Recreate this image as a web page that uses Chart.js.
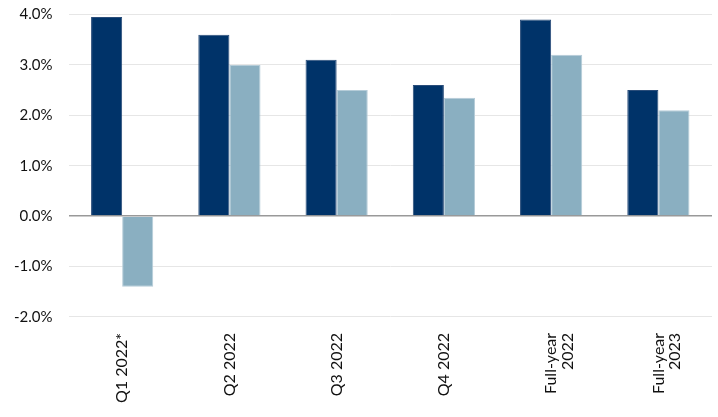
<!DOCTYPE html>
<html>
<head>
<meta charset="utf-8">
<script src="https://cdn.jsdelivr.net/npm/chart.js@4.4.1/dist/chart.umd.min.js"></script>
<style>
  html, body { margin: 0; padding: 0; background: #fff; }
  #wrap { width: 718px; height: 417px; position: relative; }
</style>
</head>
<body>
<div id="wrap"><canvas id="growth"></canvas></div>
<script>
  // categories and values
  const periods = ['Q1 2022*', 'Q2 2022', 'Q3 2022', 'Q4 2022', ['Full-year', '2022'], ['Full-year', '2023']];
  const seriesDark = [3.95, 3.6, 3.1, 2.6, 3.9, 2.5];
  const seriesLight = [-1.4, 3.0, 2.5, 2.35, 3.2, 2.1];
  const yTicks = [-2, -1, 0, 1, 2, 3, 4];

  Chart.defaults.font.family = 'Lato'
  Chart.defaults.color = '#222'

  const growth = document.getElementById('growth');

  new Chart(growth, {
    type: 'bar',
    data: {
      labels: periods,
      datasets: [{
        label: 'A',
        data: seriesDark,
        backgroundColor: '#003369',
        borderColor: '#2a4d7a',
        borderWidth: 1
      }, {
        label: 'B',
        data: seriesLight,
        backgroundColor: '#8aafc1',
        borderColor: '#b5ccd8',
        borderWidth: 1
      }]
    },
    options: {
      responsive: true,
      maintainAspectRatio: false,
      animation: false,
      layout: { padding: { top: 0, right: 6, left: 7, bottom: 6 } },
      plugins: {
        legend: { display: false },
        tooltip: { enabled: false }
      },
      datasets: {
        bar: { categoryPercentage: 0.58, barPercentage: 1.0 }
      },
      scales: {
        x: {
          grid: { display: false },
          border: { display: false },
          ticks: {
            maxRotation: 90,
            minRotation: 90,
            padding: 8,
            font: { size: 16, lineHeight: 1.05 },
            color: '#111'
          }
        },
        y: {
          min: yTicks[0],
          max: yTicks[yTicks.length - 1],
          afterBuildTicks: (axis) => { axis.ticks = yTicks.map(v => ({ value: v })) },
          border: { display: false },
          grid: {
            drawTicks: true,
            tickLength: 9,
            tickColor: 'rgba(0,0,0,0)',
            color: (ctx) => ctx.tick && ctx.tick.value === 0 ? '#999' : '#e6e6e6',
            lineWidth: (ctx) => ctx.tick && ctx.tick.value === 0 ? 1.5 : 1
          },
          ticks: {
            padding: 7,
            font: { size: 15, lineHeight: 1 },
            color: '#111',
            callback: (v) => v.toFixed(1) + '%'
          }
        }
      }
    }
  });
</script>
</body>
</html>
